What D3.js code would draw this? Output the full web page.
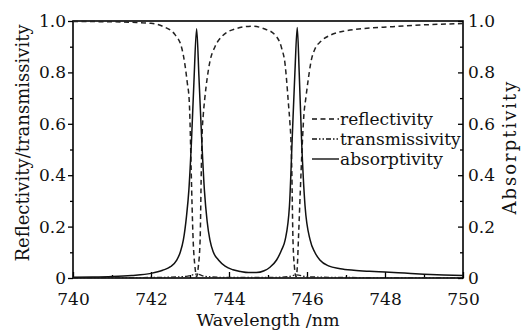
<!DOCTYPE html>
<html>
<head>
<meta charset="utf-8">
<script src="https://cdn.jsdelivr.net/npm/d3@7"></script>
<style>
  body { margin: 0; background: #fff; }
  svg { display: block; }
  svg text { font-family: "DejaVu Serif", serif; }
</style>
</head>
<body>
<svg width="521" height="330"></svg>
<script>
// absorptivity
var absWl = [740.0, 740.5, 741.0, 741.5, 742.0, 742.3, 742.5, 742.66, 742.75, 742.83, 742.91, 742.97, 743.04, 743.10, 743.17,
  743.23, 743.30, 743.37, 743.44, 743.51, 743.6, 743.73, 743.9, 744.1, 744.3, 744.5, 744.7, 744.9, 745.05, 745.22, 745.35,
  745.44, 745.55, 745.62, 745.69, 745.75, 745.80, 745.86, 745.95, 746.08, 746.2, 746.33, 746.55, 746.85, 747.2, 747.6,
  748.0, 748.5, 749.0, 749.5, 750.0];
var absVal = [0.003, 0.004, 0.006, 0.010, 0.018, 0.030, 0.044, 0.07, 0.10, 0.148, 0.24, 0.34, 0.54, 0.76, 0.97,
  0.78, 0.54, 0.34, 0.22, 0.148, 0.10, 0.07, 0.046, 0.032, 0.025, 0.021, 0.021, 0.028, 0.042, 0.07, 0.11,
  0.148, 0.28, 0.54, 0.80, 0.975, 0.80, 0.54, 0.28, 0.148, 0.10, 0.07, 0.047, 0.036, 0.030, 0.026,
  0.023, 0.019, 0.015, 0.012, 0.010];

// reflectivity
var refWl = [740.0, 741.0, 741.5, 742.0, 742.32, 742.62, 742.79, 742.87, 742.93, 742.98, 743.0, 743.03, 743.08, 743.13, 743.17,
  743.21, 743.26, 743.29, 743.31, 743.34, 743.38, 743.44, 743.51, 743.64, 743.81, 744.2, 744.6, 744.88, 745.18, 745.35,
  745.44, 745.48, 745.52, 745.56, 745.59, 745.61, 745.64, 745.68, 745.72, 745.75, 745.78, 745.85, 745.89, 745.92, 745.97,
  746.03, 746.1, 746.2, 746.35, 746.6, 747.0, 747.4, 748.2, 749.0, 750.0];
var refVal = [0.998, 0.997, 0.995, 0.991, 0.978, 0.946, 0.894, 0.83, 0.76, 0.69, 0.61, 0.42, 0.15, 0.04, 0.005,
  0.04, 0.15, 0.42, 0.556, 0.634, 0.70, 0.777, 0.842, 0.90, 0.939, 0.971, 0.980, 0.971, 0.946, 0.894,
  0.829, 0.764, 0.686, 0.608, 0.53, 0.42, 0.15, 0.04, 0.005, 0.04, 0.15, 0.42, 0.556, 0.634, 0.70,
  0.77, 0.84, 0.89, 0.92, 0.945, 0.962, 0.970, 0.978, 0.985, 0.990];

// transmissivity (hugs zero)
var traWl = [740.0, 742.0, 742.9, 743.17, 743.4, 744.0, 745.0, 745.5, 745.73, 746.0, 747.0, 750.0];
var traVal = [0.001, 0.002, 0.006, 0.015, 0.006, 0.002, 0.002, 0.005, 0.012, 0.005, 0.002, 0.001];

var xTicks = [740, 742, 744, 746, 748, 750];
var yTicks = [0, 0.2, 0.4, 0.6, 0.8, 1.0];

var svg = d3.select("svg"),
  margin = {top: 21, right: 58, bottom: 52, left: 73},
  width = +svg.attr("width") - margin.left - margin.right,
  height = +svg.attr("height") - margin.top - margin.bottom,
  g = svg.append("g").attr("transform", "translate(" + margin.left + "," + margin.top + ")");

var x = d3.scaleLinear().domain([740, 750]).range([0, width]),
  y = d3.scaleLinear().domain([0, 1]).range([height, 0]);

var fmt = function(d) { return d === 0 ? "0" : d3.format(".1f")(d); };

var line = d3.line()
  .curve(d3.curveMonotoneX)
  .x(function(d) { return x(d[0]); })
  .y(function(d) { return y(d[1]); });

function pairs(a, b) { return a.map(function(v, i) { return [v, b[i]]; }); }

// axes: minor ticks first, then labelled ones
g.append("g")
  .attr("transform", "translate(0," + height + ")")
  .call(d3.axisBottom(x).tickValues(d3.range(741, 750, 2)).tickSize(-3).tickFormat(""));
g.append("g")
  .attr("class", "axis")
  .attr("transform", "translate(0," + height + ")")
  .call(d3.axisBottom(x).tickValues(xTicks).tickSize(-6).tickPadding(15).tickFormat(d3.format("d")));

g.append("g")
  .call(d3.axisLeft(y).tickValues(d3.range(0.1, 1, 0.2)).tickSize(3).tickFormat(""));
g.append("g")
  .attr("class", "axis")
  .call(d3.axisLeft(y).tickValues(yTicks).tickSize(5).tickPadding(2).tickFormat(fmt));

g.append("g")
  .attr("transform", "translate(" + width + ",0)")
  .call(d3.axisRight(y).tickValues(d3.range(0.1, 1, 0.2)).tickSize(-3).tickFormat(""));
g.append("g")
  .attr("class", "axis")
  .attr("transform", "translate(" + width + ",0)")
  .call(d3.axisRight(y).tickValues(yTicks).tickSize(-5).tickPadding(5).tickFormat(fmt));

g.selectAll(".domain").remove();
g.selectAll(".tick line").attr("stroke", "#000").attr("stroke-width", 1.3);
g.selectAll(".axis text")
  .attr("fill", "#111")
  .style("font-family", "'DejaVu Serif', serif")
  .style("font-size", "17px");

g.append("rect")
  .attr("width", width)
  .attr("height", height)
  .attr("fill", "none")
  .attr("stroke", "#000")
  .attr("stroke-width", 1.6);

// curves
g.append("path")
  .datum(pairs(traWl, traVal))
  .attr("fill", "none").attr("stroke", "#222").attr("stroke-width", 1.3)
  .attr("stroke-dasharray", "5,2,1.5,2,1.5,2")
  .attr("d", line);

g.append("path")
  .datum(pairs(refWl, refVal))
  .attr("fill", "none").attr("stroke", "#222").attr("stroke-width", 1.5)
  .attr("stroke-dasharray", "5,3.5")
  .attr("d", line);

g.append("path")
  .datum(pairs(absWl, absVal))
  .attr("fill", "none").attr("stroke", "#111").attr("stroke-width", 1.5)
  .attr("d", line);

// legend
var legend = [
  {name: "reflectivity", dash: "5,3.5"},
  {name: "transmissivity", dash: "5,2,1.5,2,1.5,2"},
  {name: "absorptivity", dash: null}
];
var lg = g.selectAll(".legend")
  .data(legend)
  .enter().append("g")
  .attr("class", "legend")
  .attr("transform", function(d, i) { return "translate(239," + (98 + i * 20) + ")"; });
lg.append("line")
  .attr("x1", 0).attr("x2", 27)
  .attr("stroke", "#111").attr("stroke-width", 1.4)
  .attr("stroke-dasharray", function(d) { return d.dash; });
lg.append("text")
  .attr("x", 28)
  .attr("dy", "0.33em")
  .attr("fill", "#111")
  .style("font-size", "17px")
  .text(function(d) { return d.name; });

// axis titles
svg.append("text")
  .attr("transform", "translate(29," + 143 + ") rotate(-90)")
  .attr("text-anchor", "middle")
  .attr("fill", "#111")
  .style("font-size", "18px")
  .text("Reflectivity/transmissivity");

svg.append("text")
  .attr("transform", "translate(516," + 147 + ") rotate(-90)")
  .attr("text-anchor", "middle")
  .attr("fill", "#111")
  .style("font-size", "18px")
  .style("letter-spacing", "2px")
  .text("Absorptivity");

svg.append("text")
  .attr("x", margin.left + width / 2)
  .attr("y", 326)
  .attr("text-anchor", "middle")
  .attr("fill", "#111")
  .style("font-size", "17.5px")
  .text("Wavelength /nm");
</script>
</body>
</html>
